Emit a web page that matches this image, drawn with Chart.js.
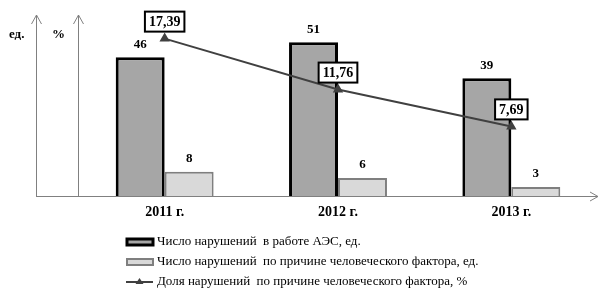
<!DOCTYPE html>
<html>
<head>
<meta charset="utf-8">
<script src="https://cdn.jsdelivr.net/npm/chart.js@4"></script>
<style>
  body { margin: 0; background: #fff; }
  canvas { display: block; }
</style>
</head>
<body>
<canvas id="chart" width="613" height="293"></canvas>
<script>
// data
const years = ['2011 г.', '2012 г.', '2013 г.'];
const totalViolations = [46, 51, 39];
const humanViolations = [8, 6, 3];
const humanShare = [17.39, 11.76, 7.69];

const serif = '"Liberation Serif", "Times New Roman", serif';

function arrow(ctx, pts) {
    ctx.beginPath();
    ctx.moveTo(pts[0][0], pts[0][1]);
    for (let i = 1; i < pts.length; i++) ctx.lineTo(pts[i][0], pts[i][1]);
    ctx.stroke();
}

const decorPlugin = {
    id: 'decor',
    beforeDatasetsDraw(chart) {
        const ctx = chart.ctx;
        const area = chart.chartArea;
        const base = Math.round(area.bottom) + 0.5;
        ctx.save();
        ctx.strokeStyle = '#808080';
        ctx.lineWidth = 1;
        // two vertical axes with arrows
        [36.5, area.left + 0.5].forEach(x => {
            arrow(ctx, [[x, base], [x, area.top]]);
            arrow(ctx, [[x - 5, area.top + 9], [x, area.top], [x + 5, area.top + 9]]);
        });
        // horizontal axis
        arrow(ctx, [[36, base], [area.right, base]]);
        arrow(ctx, [[area.right - 8, base - 4.5], [area.right, base], [area.right - 8, base + 4.5]]);

        ctx.fillStyle = '#000';
        ctx.font = 'bold 13px ' + serif;
        ctx.textBaseline = 'middle';
        ctx.textAlign = 'left';
        ctx.fillText('ед.', 9, 35);
        ctx.fillText('%', 52, 35);

        // category labels
        ctx.font = 'bold 14px ' + serif;
        ctx.textAlign = 'center';
        const xs = chart.scales.x;
        years.forEach((y, i) => {
            ctx.fillText(y, xs.getPixelForValue(i), 212);
        });
        ctx.restore();
    },
    afterDatasetsDraw(chart) {
        const ctx = chart.ctx;
        ctx.save();
        ctx.fillStyle = '#000';
        ctx.font = 'bold 13px ' + serif;
        ctx.textAlign = 'center';
        ctx.textBaseline = 'middle';
        // bar values
        [0, 1].forEach(di => {
            const meta = chart.getDatasetMeta(di);
            meta.data.forEach((bar, i) => {
                ctx.fillText(String(chart.data.datasets[di].data[i]), bar.x, bar.y - 13);
            });
        });
        // line values in boxes
        const lineMeta = chart.getDatasetMeta(2);
        ctx.font = 'bold 14px ' + serif;
        lineMeta.data.forEach((pt, i) => {
            const txt = humanShare[i].toFixed(2).replace('.', ',');
            const w = ctx.measureText(txt).width + 8;
            const h = 20;
            const cx = pt.x, cy = pt.y - 17;
            ctx.fillStyle = '#fff';
            ctx.fillRect(cx - w / 2, cy - h / 2, w, h);
            ctx.strokeStyle = '#000';
            ctx.lineWidth = 2;
            ctx.strokeRect(cx - w / 2, cy - h / 2, w, h);
            ctx.fillStyle = '#000';
            ctx.fillText(txt, cx, cy + 1);
        });

        // legend
        ctx.font = '13px ' + serif;
        ctx.textAlign = 'left';
        const rows = [242, 262, 282];
        chart.data.datasets.forEach((ds, i) => {
            const y = rows[i];
            if (ds.type === 'line') {
                ctx.strokeStyle = ds.borderColor;
                ctx.lineWidth = 2;
                arrow(ctx, [[126, y], [153, y]]);
                ctx.fillStyle = ds.borderColor;
                ctx.beginPath();
                ctx.moveTo(139.5, y - 4);
                ctx.lineTo(143.5, y + 2);
                ctx.lineTo(135.5, y + 2);
                ctx.closePath();
                ctx.fill();
            } else {
                ctx.fillStyle = ds.backgroundColor;
                ctx.fillRect(127, y - 3, 26, 6);
                ctx.strokeStyle = ds.borderColor;
                ctx.lineWidth = ds.borderWidth;
                ctx.strokeRect(127, y - 3, 26, 6);
            }
            ctx.fillStyle = '#000';
            ctx.fillText(ds.label, 157, y);
        });
        ctx.restore();
    }
};

new Chart(document.getElementById('chart'), {
    data: {
        labels: years,
        datasets: [
            {
                type: 'bar',
                label: 'Число нарушений  в работе АЭС, ед.',
                data: totalViolations,
                yAxisID: 'y',
                backgroundColor: '#a6a6a6',
                borderColor: '#000',
                borderWidth: 3,
                order: 1
            },
            {
                type: 'bar',
                label: 'Число нарушений  по причине человеческого фактора, ед.',
                data: humanViolations,
                yAxisID: 'y',
                backgroundColor: '#d9d9d9',
                borderColor: '#7f7f7f',
                borderWidth: 2,
                order: 1
            },
            {
                type: 'line',
                label: 'Доля нарушений  по причине человеческого фактора, %',
                data: humanShare,
                yAxisID: 'y1',
                borderColor: '#404040',
                backgroundColor: '#404040',
                borderWidth: 2,
                pointStyle: 'triangle',
                pointRadius: 4,
                order: 0
            }
        ]
    },
    options: {
        responsive: false,
        animation: false,
        layout: { padding: { left: 78, right: 15, top: 15, bottom: 97 } },
        datasets: { bar: { barPercentage: 1, categoryPercentage: 0.565 } },
        plugins: { legend: { display: false }, tooltip: { enabled: false } },
        scales: {
            x: { display: false, offset: true },
            y: { display: false, min: 0, max: 60 },
            y1: { display: false, min: 0, max: 20 }
        }
    },
    plugins: [decorPlugin]
});
</script>
</body>
</html>
